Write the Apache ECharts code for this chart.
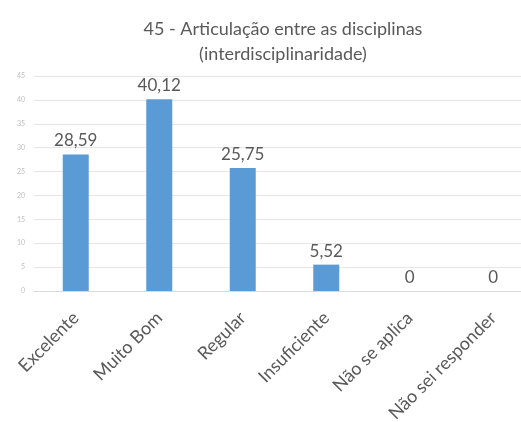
<!DOCTYPE html>
<html lang="pt-BR">
<head>
  <meta charset="utf-8">
  <title>45 - Articulação entre as disciplinas</title>
  <script src="https://cdn.jsdelivr.net/npm/echarts@6/dist/echarts.min.js"></script>
  <style>
    html, body { margin: 0; padding: 0; background: #fff; }
    #main { width: 521px; height: 422px; }
  </style>
</head>
<body>
  <div id="main"></div>
  <script>
    // dados do gráfico
    var categorias = ['Excelente', 'Muito Bom', 'Regular', 'Insuficiente', 'Não se aplica', 'Não sei responder'];
    var valores = [28.59, 40.12, 25.75, 5.52, 0, 0];
    var eixoY = { min: 0, max: 45, intervalo: 5 };

    var fonte = 'Lato, "Open Sans", sans-serif';
    var chart = echarts.init(document.getElementById('main'));

    var option = {
      textStyle: { fontFamily: fonte },
      title: {
        text: '45 - Articulação entre as disciplinas\n(interdisciplinaridade)',
        left: 278,
        textAlign: 'center',
        top: 12,
        textStyle: { fontSize: 18, fontWeight: 'normal', color: '#595959', lineHeight: 25, fontFamily: fonte }
      },
      // a área do gráfico passa da borda direita da imagem
      grid: { left: 34, width: 501, top: 76, bottom: 131, outerBoundsMode: 'none' },
      xAxis: {
        type: 'category',
        data: categorias,
        axisLine: { lineStyle: { color: '#d9d9d9' } },
        axisTick: { show: false },
        axisLabel: { rotate: 45, color: '#595959', fontSize: 18, margin: 24, interval: 0 }
      },
      yAxis: {
        type: 'value',
        min: eixoY.min,
        max: eixoY.max,
        interval: eixoY.intervalo,
        axisLabel: { color: '#bfbfbf', fontSize: 7, margin: 9 },
        splitLine: { lineStyle: { color: '#e6e6e6' } },
        axisLine: { show: false },
        axisTick: { show: false }
      },
      series: [{
        type: 'bar',
        data: valores,
        barWidth: 26,
        itemStyle: { color: '#5b9bd5' },
        label: {
          show: true,
          position: 'top',
          distance: 5,
          color: '#595959',
          fontSize: 17,
          formatter: function (p) { return String(p.value).replace('.', ','); }
        }
      }]
    };

    chart.setOption(option);
  </script>
</body>
</html>
